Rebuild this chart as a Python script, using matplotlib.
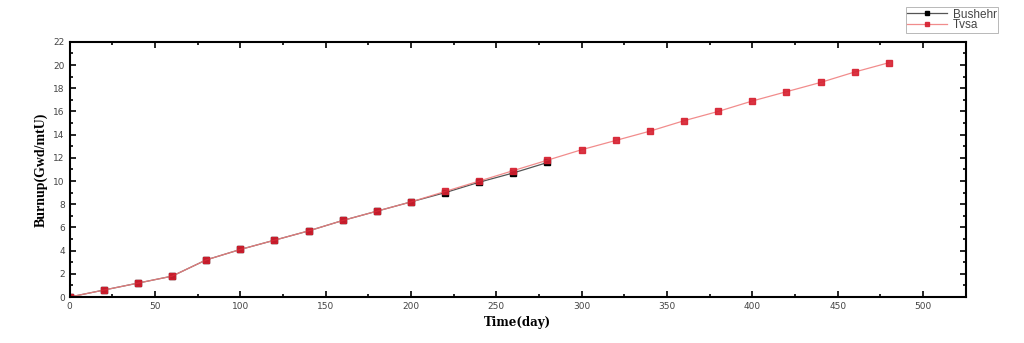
import matplotlib
matplotlib.use("Agg")
import matplotlib.pyplot as plt
from matplotlib.ticker import MultipleLocator

bushehr_time = [0, 20, 40, 60, 80, 100, 120, 140, 160, 180, 200, 220, 240, 260, 280]
bushehr_burnup = [0.0, 0.6, 1.2, 1.8, 3.2, 4.1, 4.9, 5.7, 6.6, 7.4, 8.2, 9.0, 9.9, 10.7, 11.6]

tvsa_time = [0, 20, 40, 60, 80, 100, 120, 140, 160, 180, 200, 220, 240, 260, 280,
             300, 320, 340, 360, 380, 400, 420, 440, 460, 480]
tvsa_burnup = [0.0, 0.6, 1.2, 1.8, 3.2, 4.1, 4.9, 5.7, 6.6, 7.4, 8.2, 9.1, 10.0, 10.9, 11.8,
               12.7, 13.5, 14.3, 15.2, 16.0, 16.9, 17.7, 18.5, 19.4, 20.2]

fig = plt.figure(figsize=(10.24, 3.43), dpi=100)
ax = fig.add_axes([0.068, 0.134, 0.875, 0.744])

ax.plot(bushehr_time, bushehr_burnup, color="#555555", lw=0.9, marker="s",
        ms=4.5, mfc="black", mec="black", label="Bushehr")
ax.plot(tvsa_time, tvsa_burnup, color="#f08080", lw=0.9, marker="s",
        ms=4.0, mfc="#d62030", mec="#d62030", label="Tvsa", alpha=0.9)

ax.set_xlim(0, 525)
ax.set_ylim(0, 22)
ax.xaxis.set_major_locator(MultipleLocator(50))
ax.xaxis.set_minor_locator(MultipleLocator(25))
ax.yaxis.set_major_locator(MultipleLocator(2))
ax.yaxis.set_minor_locator(MultipleLocator(1))
ax.tick_params(which="both", direction="in", top=True, right=True,
               labelsize=6.5, labelcolor="#444444", width=1.2)
ax.tick_params(which="major", length=4)
ax.tick_params(which="minor", length=2.5)
for s in ax.spines.values():
    s.set_linewidth(1.5)

ax.set_xlabel("Time(day)", family="DejaVu Serif", fontweight="bold", fontsize=8.5)
ax.set_ylabel("Burnup(Gwd/mtU)", family="Liberation Serif", fontweight="bold",
              fontsize=10, stretch="condensed")

leg = ax.legend(loc="upper left", bbox_to_anchor=(0.933, 1.135),
                prop={"family": "Liberation Sans", "size": 8.5},
                frameon=True, fancybox=False, edgecolor="#999999",
                handlelength=3.4, borderpad=0.1, labelspacing=-0.1,
                handletextpad=0.5, markerscale=0.75, borderaxespad=0)
leg.get_frame().set_linewidth(0.6)
for t in leg.get_texts():
    t.set_color("#444444")

fig.savefig("out.png", dpi=100)
